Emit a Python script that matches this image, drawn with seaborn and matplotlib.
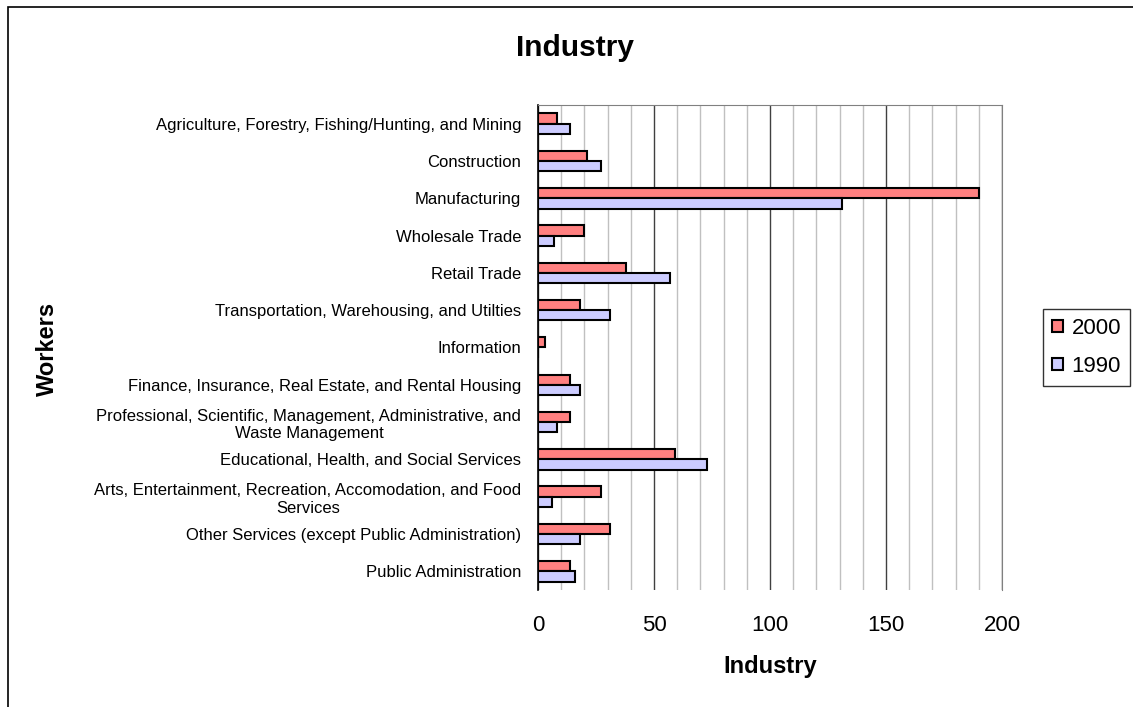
import numpy as np
import pandas as pd
import matplotlib
matplotlib.use("Agg")
import matplotlib.pyplot as plt
import seaborn as sns
from matplotlib.patches import Rectangle
from matplotlib.ticker import MultipleLocator, FixedLocator

categories = [
    "Agriculture, Forestry, Fishing/Hunting, and Mining",
    "Construction",
    "Manufacturing",
    "Wholesale Trade",
    "Retail Trade",
    "Transportation, Warehousing, and Utilties",
    "Information",
    "Finance, Insurance, Real Estate, and Rental Housing",
    "Professional, Scientific, Management, Administrative, and\nWaste Management",
    "Educational, Health, and Social Services",
    "Arts, Entertainment, Recreation, Accomodation, and Food\nServices",
    "Other Services (except Public Administration)",
    "Public Administration",
]
workers_2000 = [8, 21, 190, 20, 38, 18, 3, 14, 14, 59, 27, 31, 14]
workers_1990 = [14, 27, 131, 7, 57, 31, 0, 18, 8, 73, 6, 18, 16]
years = ["2000", "1990"]
x_ticks = [0, 50, 100, 150, 200]

df = pd.DataFrame({
    "category": categories * 2,
    "workers": workers_2000 + workers_1990,
    "year": ["2000"] * len(categories) + ["1990"] * len(categories),
})

sns.set_style("white")
plt.rcParams["font.family"] = ["Liberation Sans", "DejaVu Sans"]
plt.rcParams["text.color"] = "black"
plt.rcParams["axes.labelcolor"] = "black"
plt.rcParams["xtick.color"] = "black"
plt.rcParams["ytick.color"] = "black"

fig = plt.figure(figsize=(11.33, 7.07), dpi=100)
ax = fig.add_axes([538 / 1133, 1 - 590 / 707, 464 / 1133, 485 / 707])

sns.barplot(data=df, x="workers", y="category", hue="year", hue_order=years,
            order=categories, orient="h", palette=["#FF8080", "#CCCCFF"],
            saturation=1, edgecolor="black", linewidth=1.5, width=0.55,
            ax=ax, zorder=3)

ax.set_xlim(0, 200)
ax.set_ylim(len(categories) - 0.5, -0.5)
ax.set_xticks(x_ticks)
ax.xaxis.set_minor_locator(MultipleLocator(10))
ax.grid(axis="x", which="minor", color="#c0c0c0", linewidth=1, zorder=0)
ax.grid(axis="x", which="major", color="#404040", linewidth=1, zorder=0)
ax.set_axisbelow(True)
ax.tick_params(axis="x", which="both", length=0, labelsize=16, pad=18)

ax.yaxis.set_minor_locator(FixedLocator(np.arange(-0.5, len(categories), 1)))
ax.tick_params(axis="y", which="major", length=0, labelsize=12, pad=12)
ax.tick_params(axis="y", which="minor", length=5, width=1, color="black", direction="out")
for lbl in ax.get_yticklabels():
    lbl.set_multialignment("center")

for side in ["top", "right"]:
    ax.spines[side].set_color("#808080")
ax.spines["bottom"].set_visible(False)
ax.spines["left"].set_color("black")
ax.spines["left"].set_linewidth(1.2)

ax.set_xlabel("Industry", fontsize=17, fontweight="bold", labelpad=14)
ax.set_ylabel("")
fig.text(47 / 1133, 1 - 349 / 707, "Workers", rotation=90, fontsize=17,
         fontweight="bold", ha="center", va="center")
fig.text(575 / 1133, 1 - 48 / 707, "Industry", fontsize=21.5, fontweight="bold",
         ha="center", va="center")

leg = ax.legend(title=None, loc="center left", bbox_to_anchor=(1.088, 0.5),
                fontsize=16, frameon=True, fancybox=False, edgecolor="black",
                handlelength=0.5, handleheight=0.45, handletextpad=0.4,
                borderpad=0.4, labelspacing=0.8, borderaxespad=0)
leg.get_frame().set_linewidth(1)

fig.patches.append(Rectangle((8 / 1133, -0.5), 1.2, 1.5 - 7 / 707, transform=fig.transFigure,
                             fill=False, edgecolor="black", linewidth=1.2))

fig.savefig("out.png", dpi=100)
